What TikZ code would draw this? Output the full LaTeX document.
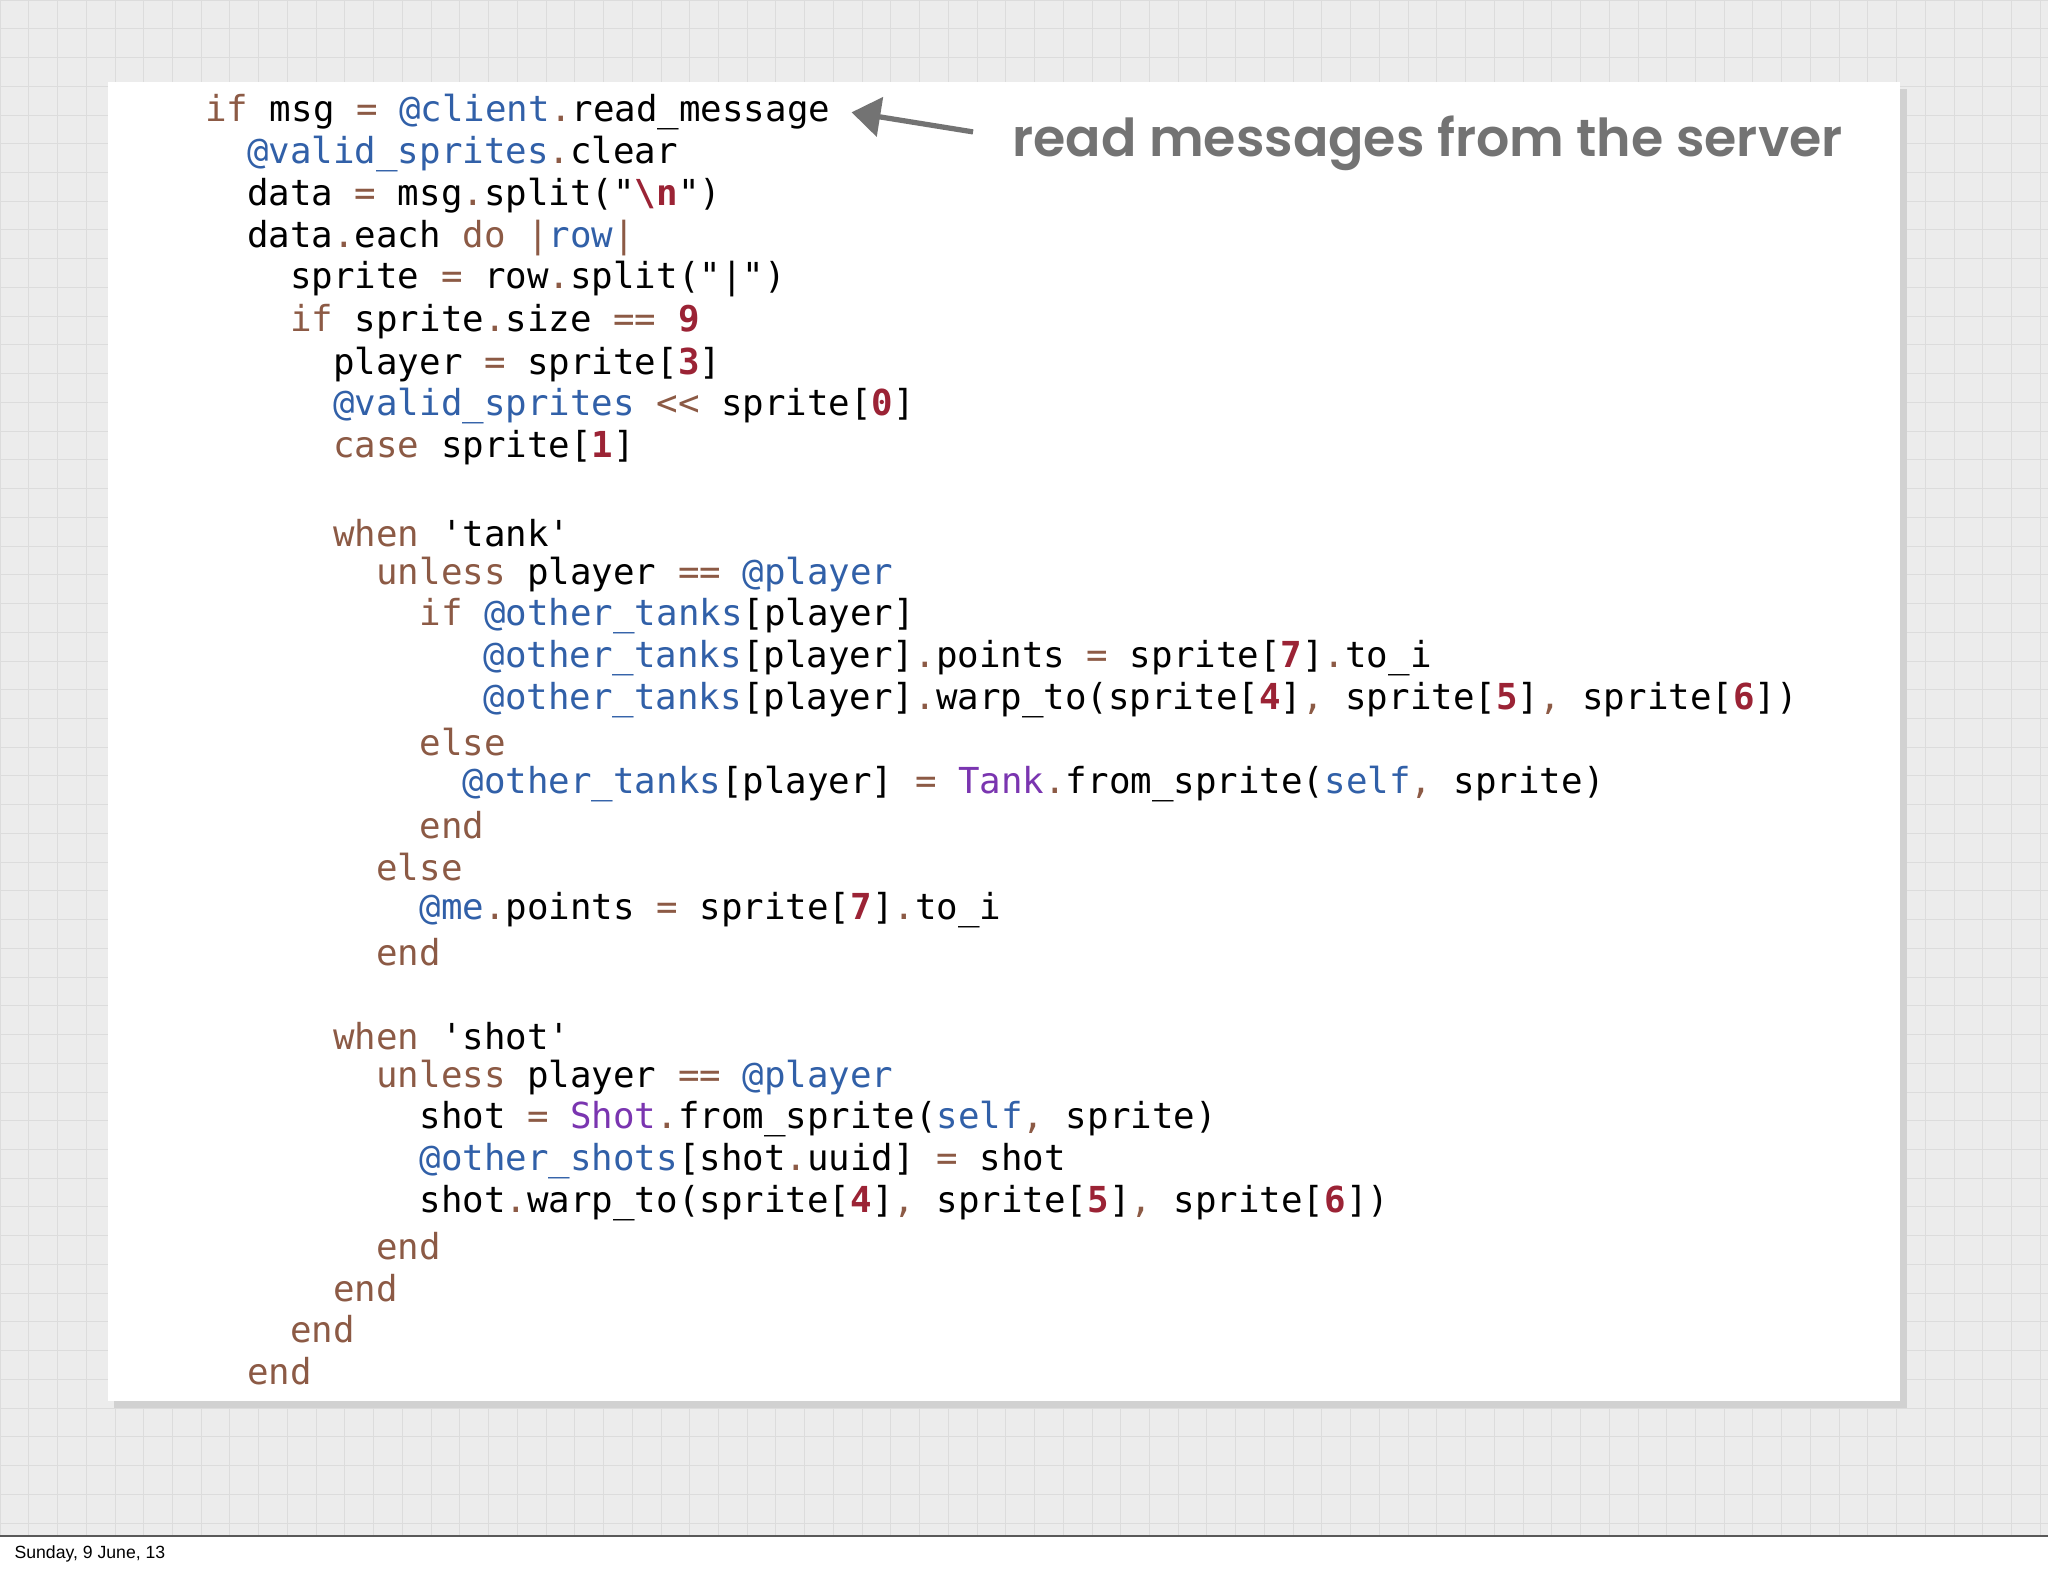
\documentclass[tikz,border=0pt]{standalone}
\usepackage{fontspec}
\setmainfont{Liberation Sans}
\newfontfamily\codefont{DejaVu Sans Mono}
\newfontfamily\handfont{Poppins SemiBold}
\usetikzlibrary{arrows.meta,shadows}
\definecolor{kwc}{HTML}{8C5A45}
\definecolor{ivc}{HTML}{3160A8}
\definecolor{nmc}{HTML}{9B2335}
\definecolor{clc}{HTML}{7A35B0}
\definecolor{gridbg}{HTML}{ECECEC}
\definecolor{gridln}{HTML}{DCDCDC}
\newcommand{\kw}[1]{\textcolor{kwc}{#1}}
\newcommand{\iv}[1]{\textcolor{ivc}{#1}}
\newcommand{\nm}[1]{\textcolor{nmc}{\bfseries #1}}
\newcommand{\cl}[1]{\textcolor{clc}{#1}}
\newcommand{\dt}{\textcolor{kwc}{.}}
\newcommand{\cm}{\textcolor{kwc}{,}}
\begin{document}
\begin{tikzpicture}[x=1pt,y=-1pt,
  codeline/.style={anchor=west,inner sep=0pt,font=\codefont\fontsize{27.4}{32}\selectfont}]
\useasboundingbox (0,0) rectangle (1568,1206);
\fill[white] (0,0) rectangle (1568,1206);
\fill[gridbg] (0,0) rectangle (1568,1176);
\foreach \i in {0,22,...,1568} \draw[gridln,line width=0.6] (\i,0) -- (\i,1176);
\foreach \i in {0,22,...,1176} \draw[gridln,line width=0.6] (0,\i) -- (1568,\i);
\draw[gray!70!black,line width=1] (0,1176) -- (1568,1176);
\fill[black!18] (87,68) rectangle (1460,1078);
\fill[white] (83,63) rectangle (1455,1073);
\node[codeline] (l1) at (157,86) {\kw{if} msg \kw{=} \iv{@client}\dt read\_message};
\node[codeline] (l2) at (189,118) {\iv{@valid\_sprites}\dt clear};
\node[codeline] (l3) at (189,150) {data \kw{=} msg\dt split("\nm{\textbackslash n}")};
\node[codeline] (l4) at (189,182) {data\dt each \kw{do} \kw{|}\iv{row}\kw{|}};
\node[codeline] (l5) at (222,214) {sprite \kw{=} row\dt split("|")};
\node[codeline] (l6) at (222,246) {\kw{if} sprite\dt size \kw{==} \nm{9}};
\node[codeline] (l7) at (255,279) {player \kw{=} sprite[\nm{3}]};
\node[codeline] (l8) at (255,311) {\iv{@valid\_sprites} \kw{<<} sprite[\nm{0}]};
\node[codeline] (l9) at (255,343) {\kw{case} sprite[\nm{1}]};
\node[codeline] (l10) at (255,408) {\kw{when} 'tank'};
\node[codeline] (l11) at (288,440) {\kw{unless} player \kw{==} \iv{@player}};
\node[codeline] (l12) at (321,472) {\kw{if} \iv{@other\_tanks}[player]};
\node[codeline] (l13) at (370,504) {\iv{@other\_tanks}[player]\dt points \kw{=} sprite[\nm{7}]\dt to\_i};
\node[codeline] (l14) at (370,536) {\iv{@other\_tanks}[player]\dt warp\_to(sprite[\nm{4}]\cm{} sprite[\nm{5}]\cm{} sprite[\nm{6}])};
\node[codeline] (l15) at (321,568) {\kw{else}};
\node[codeline] (l16) at (354,600) {\iv{@other\_tanks}[player] \kw{=} \cl{Tank}\dt from\_sprite(\iv{self}\cm{} sprite)};
\node[codeline] (l17) at (321,632) {\kw{end}};
\node[codeline] (l18) at (288,664) {\kw{else}};
\node[codeline] (l19) at (321,697) {\iv{@me}\dt points \kw{=} sprite[\nm{7}]\dt to\_i};
\node[codeline] (l20) at (288,729) {\kw{end}};
\node[codeline] (l21) at (255,793) {\kw{when} 'shot'};
\node[codeline] (l22) at (288,825) {\kw{unless} player \kw{==} \iv{@player}};
\node[codeline] (l23) at (321,857) {shot \kw{=} \cl{Shot}\dt from\_sprite(\iv{self}\cm{} sprite)};
\node[codeline] (l24) at (321,889) {\iv{@other\_shots}[shot\dt uuid] \kw{=} shot};
\node[codeline] (l25) at (321,921) {shot\dt warp\_to(sprite[\nm{4}]\cm{} sprite[\nm{5}]\cm{} sprite[\nm{6}])};
\node[codeline] (l26) at (288,954) {\kw{end}};
\node[codeline] (l27) at (255,986) {\kw{end}};
\node[codeline] (l28) at (222,1018) {\kw{end}};
\node[codeline] (l29) at (189,1050) {\kw{end}};
\node[anchor=west,inner sep=0pt,text=black!55,font=\handfont\fontsize{40}{44}\selectfont] (note) at (775,110) {read messages from the server};
\coordinate (arrs) at (745,101);
\draw[black!55,line width=4,-{Triangle[length=22,width=30]}] (arrs) -- (l1.east -| 652,90);
\node[anchor=west,inner sep=0pt,font=\fontsize{13.5}{16}\selectfont] (foot) at (11,1190) {Sunday, 9 June, 13};
\end{tikzpicture}
\end{document}
